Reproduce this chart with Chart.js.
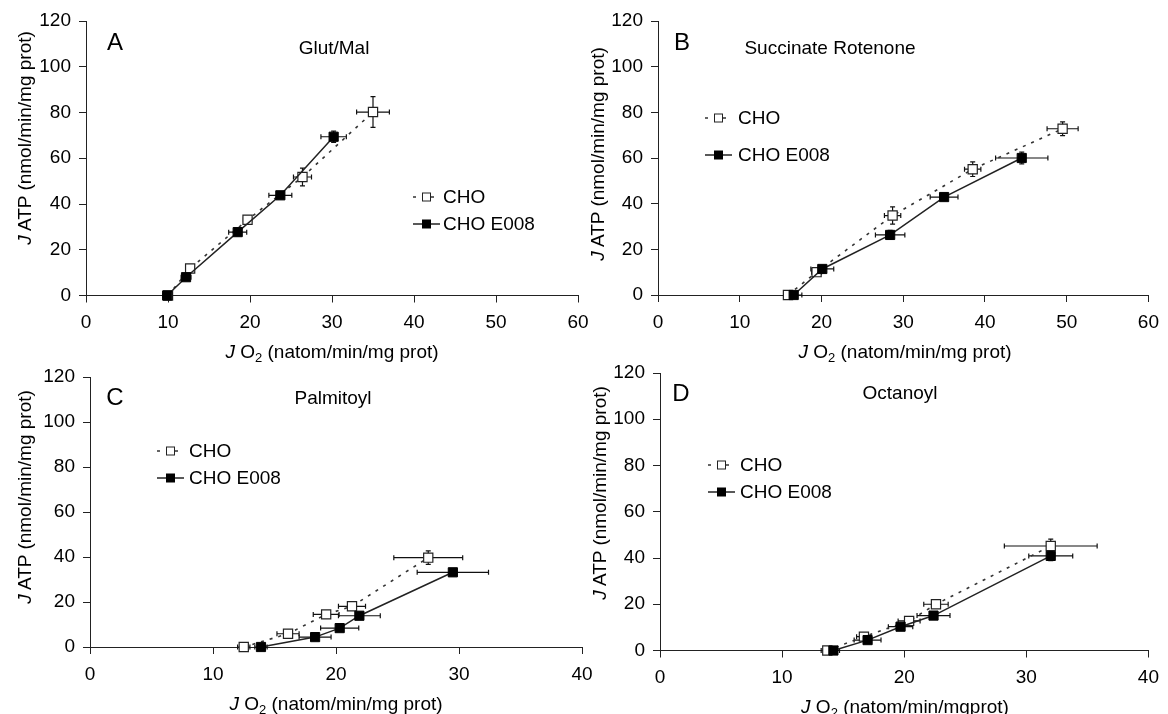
<!DOCTYPE html>
<html>
<head>
<meta charset="utf-8">
<script src="https://cdn.jsdelivr.net/npm/chart.js@4.4.0/dist/chart.umd.min.js"></script>
<style>
  html, body { margin: 0; padding: 0; background: #fff; }
  #wrap { position: relative; width: 1168px; height: 714px; overflow: hidden; font-family: "Liberation Sans", Arial, sans-serif; color: #000; }
  #wrap canvas { position: absolute; left: 0; top: 0; }
  .txt { position: absolute; white-space: nowrap; line-height: 1; transform: translate(-50%, -50%); }
  .letter { font-size: 24px; }
  .ptitle { font-size: 19px; }
  .xtitle { font-size: 19px; }
  .ytitle { font-size: 19px; transform: translate(-50%, -50%) rotate(-90deg); }
  .xtitle sub { font-size: 13px; vertical-align: -4px; line-height: 0; }
</style>
</head>
<body>
<div id="wrap">
  <canvas id="chartA" width="1168" height="714"></canvas>
  <canvas id="chartB" width="1168" height="714"></canvas>
  <canvas id="chartC" width="1168" height="714"></canvas>
  <canvas id="chartD" width="1168" height="714"></canvas>

  <div class="txt letter" style="left:115px; top:42px;">A</div>
  <div class="txt ptitle" style="left:334px; top:47px;">Glut/Mal</div>
  <div class="txt ytitle" style="left:24px; top:138px;"><i>J</i> ATP (nmol/min/mg prot)</div>
  <div class="txt xtitle" style="left:332px; top:351px;"><i>J</i> O<sub>2</sub> (natom/min/mg prot)</div>

  <div class="txt letter" style="left:682px; top:42px;">B</div>
  <div class="txt ptitle" style="left:830px; top:47px;">Succinate Rotenone</div>
  <div class="txt ytitle" style="left:597px; top:154px;"><i>J</i> ATP (nmol/min/mg prot)</div>
  <div class="txt xtitle" style="left:905px; top:351px;"><i>J</i> O<sub>2</sub> (natom/min/mg prot)</div>

  <div class="txt letter" style="left:115px; top:397px;">C</div>
  <div class="txt ptitle" style="left:333px; top:397px;">Palmitoyl</div>
  <div class="txt ytitle" style="left:24px; top:497px;"><i>J</i> ATP (nmol/min/mg prot)</div>
  <div class="txt xtitle" style="left:336px; top:703px;"><i>J</i> O<sub>2</sub> (natom/min/mg prot)</div>

  <div class="txt letter" style="left:681px; top:393px;">D</div>
  <div class="txt ptitle" style="left:900px; top:392px;">Octanoyl</div>
  <div class="txt ytitle" style="left:599px; top:493px;"><i>J</i> ATP (nmol/min/mg prot)</div>
  <div class="txt xtitle" style="left:905px; top:706px;"><i>J</i> O<sub>2</sub> (natom/min/mgprot)</div>
</div>

<script>
const seriesNames = ['CHO', 'CHO E008'];
const yTicks = [0, 20, 40, 60, 80, 100, 120];
const xTicksWide = [0, 10, 20, 30, 40, 50, 60];
const xTicksNarrow = [0, 10, 20, 30, 40];

// A - Glut/Mal
const glutCHO_x = [10.0, 12.7, 19.7, 26.4, 35.0];
const glutCHO_y = [0, 11.8, 33.1, 51.8, 80.2];
const glutCHO_xerr = [0.4, 0.5, 0.5, 1.1, 2.0];
const glutCHO_yerr = [0, 1.0, 1.5, 3.9, 6.7];
const glutE008_x = [9.9, 12.2, 18.5, 23.7, 30.2];
const glutE008_y = [0, 8.0, 27.7, 43.8, 69.4];
const glutE008_xerr = [0.5, 0.6, 1.1, 1.4, 1.55];
const glutE008_yerr = [0, 1.0, 1.5, 1.0, 2.5];

// B - Succinate Rotenone
const succCHO_x = [15.9, 19.4, 28.7, 38.5, 49.5];
const succCHO_y = [0, 10.0, 34.8, 55.1, 72.8];
const succCHO_xerr = [0.5, 0.6, 1.0, 1.0, 1.9];
const succCHO_yerr = [0, 1.0, 3.8, 3.2, 3.0];
const succE008_x = [16.6, 20.1, 28.4, 35.0, 44.5];
const succE008_y = [0, 11.4, 26.3, 42.9, 60.0];
const succE008_xerr = [1.0, 1.4, 1.8, 1.7, 3.2];
const succE008_yerr = [0, 1.0, 2.0, 1.0, 2.6];

// C - Palmitoyl
const palmCHO_x = [12.5, 16.1, 19.2, 21.3, 27.5];
const palmCHO_y = [0, 5.9, 14.5, 18.1, 39.7];
const palmCHO_xerr = [0.5, 0.9, 1.05, 1.1, 2.8];
const palmCHO_yerr = [0, 1.0, 1.5, 1.0, 3.0];
const palmE008_x = [13.9, 18.3, 20.3, 21.9, 29.5];
const palmE008_y = [0, 4.4, 8.4, 13.9, 33.2];
const palmE008_xerr = [0.5, 1.3, 1.55, 1.7, 2.9];
const palmE008_yerr = [0, 1.0, 1.0, 1.0, 1.5];

// D - Octanoyl
const octCHO_x = [13.7, 16.7, 20.4, 22.6, 32.0];
const octCHO_y = [0, 6.0, 12.8, 20.0, 45.2];
const octCHO_xerr = [0.5, 0.6, 0.9, 1.0, 3.8];
const octCHO_yerr = [0, 1.0, 1.0, 1.0, 3.0];
const octE008_x = [14.2, 17.0, 19.7, 22.4, 32.0];
const octE008_y = [0, 4.5, 10.3, 15.1, 40.9];
const octE008_xerr = [0.5, 1.1, 1.0, 1.35, 1.8];
const octE008_yerr = [0, 1.0, 1.0, 1.0, 2.0];

const FONT = '"Liberation Sans", Arial, sans-serif';
const Y_AXIS_W = 80;
const X_AXIS_H = 50;

// draws x/y error bars under the markers
const errorBars = {
    id: 'errorBars',
    beforeDatasetsDraw(chart) {
        const ctx = chart.ctx, xs = chart.scales.x, ys = chart.scales.y;
        const cap = 2.5;
        ctx.save();
        ctx.strokeStyle = '#111';
        ctx.lineWidth = 1.2;
        chart.data.datasets.forEach(ds => {
            ds.data.forEach((p, i) => {
                const px = xs.getPixelForValue(p.x), py = ys.getPixelForValue(p.y);
                const ex = ds.xErr[i], ey = ds.yErr[i];
                ctx.beginPath();
                if (ex) {
                    const l = xs.getPixelForValue(p.x - ex), r = xs.getPixelForValue(p.x + ex);
                    ctx.moveTo(l, py); ctx.lineTo(r, py);
                    ctx.moveTo(l, py - cap); ctx.lineTo(l, py + cap);
                    ctx.moveTo(r, py - cap); ctx.lineTo(r, py + cap);
                }
                if (ey) {
                    const t = ys.getPixelForValue(p.y + ey), b = ys.getPixelForValue(p.y - ey);
                    ctx.moveTo(px, t); ctx.lineTo(px, b);
                    ctx.moveTo(px - cap, t); ctx.lineTo(px + cap, t);
                    ctx.moveTo(px - cap, b); ctx.lineTo(px + cap, b);
                }
                ctx.stroke();
            });
        });
        ctx.restore();
    }
};

// little legend inside the plot
const panelLegend = {
    id: 'panelLegend',
    afterDraw(chart, args, opts) {
        const ctx = chart.ctx;
        const s = 8;
        chart.data.datasets.forEach((ds, i) => {
            const y = opts.y + i * opts.gap;
            const mx = opts.x + opts.len / 2;
            ctx.save();
            ctx.strokeStyle = ds.borderColor;
            ctx.lineWidth = ds.borderWidth;
            ctx.setLineDash(ds.borderDash || []);
            ctx.beginPath();
            ctx.moveTo(opts.x, y);
            ctx.lineTo(opts.x + opts.len, y);
            ctx.stroke();
            ctx.setLineDash([]);
            ctx.fillStyle = ds.pointBackgroundColor;
            ctx.fillRect(mx - s / 2, y - s / 2, s, s);
            ctx.strokeStyle = ds.pointBorderColor;
            ctx.lineWidth = 1;
            ctx.strokeRect(mx - s / 2, y - s / 2, s, s);
            ctx.fillStyle = '#000';
            ctx.font = '19px ' + FONT;
            ctx.textBaseline = 'middle';
            ctx.fillText(ds.label, opts.tx, y + 1);
            ctx.restore();
        });
    }
};

function points(xs, ys) {
    return xs.map((v, i) => ({x: v, y: ys[i]}));
}

function makePanel(id, area, xTicks, cho, e008, legend) {
    var ctx = document.getElementById(id).getContext('2d');
    return new Chart(ctx, {
        type: 'scatter',
        data: {
            datasets: [{
                label: seriesNames[1],
                data: points(e008.x, e008.y),
                xErr: e008.xerr,
                yErr: e008.yerr,
                showLine: true,
                borderColor: '#222',
                borderWidth: 1.5,
                pointStyle: 'rect',
                pointRadius: 6.5,
                pointBackgroundColor: '#000',
                pointBorderColor: '#000',
                pointBorderWidth: 1,
                clip: false
            }, {
                label: seriesNames[0],
                data: points(cho.x, cho.y),
                xErr: cho.xerr,
                yErr: cho.yerr,
                showLine: true,
                borderColor: '#333',
                borderWidth: 1.6,
                borderDash: [3, 6],
                pointStyle: 'rect',
                pointRadius: 6.5,
                pointBackgroundColor: '#fff',
                pointBorderColor: '#222',
                pointBorderWidth: 1.2,
                clip: false
            }]
        },
        options: {
            responsive: false,
            animation: false,
            layout: {
                padding: {
                    left: area.left - Y_AXIS_W,
                    top: area.top,
                    right: 1168 - area.right,
                    bottom: 714 - area.bottom - X_AXIS_H
                }
            },
            scales: {
                x: {
                    type: 'linear',
                    min: xTicks[0],
                    max: xTicks[xTicks.length - 1],
                    afterFit: s => { s.height = X_AXIS_H; },
                    ticks: { stepSize: xTicks[1] - xTicks[0], color: '#000', padding: 9, font: { family: FONT, size: 19 } },
                    grid: { drawOnChartArea: false, drawTicks: true, tickLength: 7, color: '#222' },
                    border: { color: '#222', width: 1 }
                },
                y: {
                    type: 'linear',
                    min: yTicks[0],
                    max: yTicks[yTicks.length - 1],
                    afterFit: s => { s.width = Y_AXIS_W; },
                    ticks: { stepSize: yTicks[1] - yTicks[0], color: '#000', padding: 8, font: { family: FONT, size: 19 } },
                    grid: { drawOnChartArea: false, drawTicks: true, tickLength: 7, color: '#222' },
                    border: { color: '#222', width: 1 }
                }
            },
            plugins: {
                legend: { display: false },
                tooltip: { enabled: false },
                panelLegend: legend
            }
        },
        plugins: [errorBars, panelLegend]
    });
}

makePanel('chartA', {left: 86, top: 21, right: 578, bottom: 295.5}, xTicksWide,
    {x: glutCHO_x, y: glutCHO_y, xerr: glutCHO_xerr, yerr: glutCHO_yerr},
    {x: glutE008_x, y: glutE008_y, xerr: glutE008_xerr, yerr: glutE008_yerr},
    {x: 413, len: 27, tx: 443, y: 224, gap: -27});

makePanel('chartB', {left: 658, top: 21, right: 1152, bottom: 295}, xTicksWide,
    {x: succCHO_x, y: succCHO_y, xerr: succCHO_xerr, yerr: succCHO_yerr},
    {x: succE008_x, y: succE008_y, xerr: succE008_xerr, yerr: succE008_yerr},
    {x: 705, len: 27, tx: 738, y: 155, gap: -37});

makePanel('chartC', {left: 90, top: 377, right: 582, bottom: 647}, xTicksNarrow,
    {x: palmCHO_x, y: palmCHO_y, xerr: palmCHO_xerr, yerr: palmCHO_yerr},
    {x: palmE008_x, y: palmE008_y, xerr: palmE008_xerr, yerr: palmE008_yerr},
    {x: 157, len: 27, tx: 189, y: 478, gap: -27});

makePanel('chartD', {left: 660, top: 373, right: 1150, bottom: 650.5}, xTicksNarrow,
    {x: octCHO_x, y: octCHO_y, xerr: octCHO_xerr, yerr: octCHO_yerr},
    {x: octE008_x, y: octE008_y, xerr: octE008_xerr, yerr: octE008_yerr},
    {x: 708, len: 27, tx: 740, y: 492, gap: -27});
</script>
</body>
</html>
